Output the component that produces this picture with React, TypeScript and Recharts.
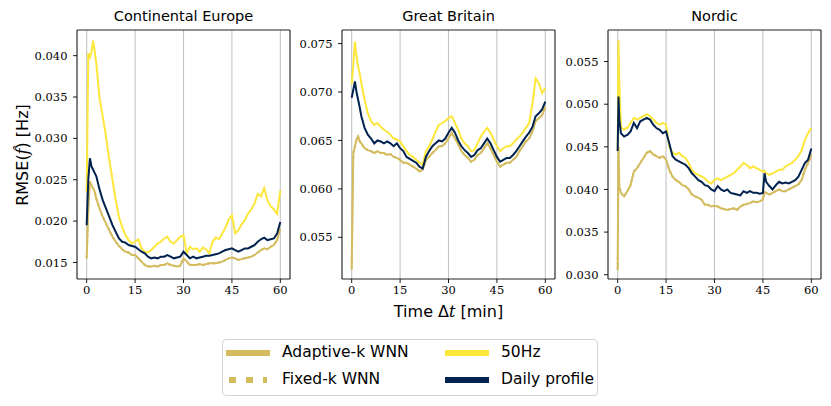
import React from 'react';
import { LineChart, Line, XAxis, YAxis, CartesianGrid, ReferenceArea } from 'recharts';

// ---------- categories (minutes) ----------
const ceTime = [0, 0.5, 1, 1.5, 2, 2.5, 3, 4, 5, 6, 7, 8, 9, 10, 11, 12, 13, 14, 15, 16, 17, 18, 19, 20, 21, 22, 23, 24, 25, 26, 27, 28, 29, 30, 31, 32, 33, 34, 35, 36, 37, 38, 39, 40, 41, 42, 43, 44, 45, 46, 47, 48, 49, 50, 51, 52, 53, 54, 55, 56, 57, 58, 59, 60];
const gbTime = ceTime;
const noTime = [0, 0.25, 0.5, 1, 1.5, 2, 2.5, 3, 4, 5, 6, 7, 8, 9, 10, 11, 12, 13, 14, 15, 16, 17, 18, 19, 20, 21, 22, 23, 24, 25, 26, 27, 28, 29, 30, 31, 32, 33, 34, 35, 36, 37, 38, 39, 40, 41, 42, 43, 44, 45, 45.5, 46, 47, 48, 49, 50, 51, 52, 53, 54, 55, 56, 57, 58, 59, 60];

// ---------- Continental Europe ----------
const ceAdaptive = [0.0155, 0.0215, 0.0248, 0.0243, 0.0240, 0.0235, 0.0227, 0.0215, 0.0205, 0.0197, 0.0189, 0.0181, 0.0175, 0.0170, 0.0166, 0.0163, 0.0162, 0.0159, 0.0159, 0.0155, 0.0151, 0.0147, 0.0145, 0.0145, 0.0146, 0.0145, 0.0147, 0.0147, 0.0149, 0.0147, 0.0146, 0.0145, 0.0146, 0.0155, 0.0151, 0.0147, 0.0147, 0.0147, 0.0148, 0.0147, 0.0148, 0.0149, 0.0149, 0.0149, 0.0150, 0.0151, 0.0153, 0.0155, 0.0156, 0.0155, 0.0153, 0.0154, 0.0155, 0.0156, 0.0157, 0.0159, 0.0162, 0.0165, 0.0167, 0.0166, 0.0169, 0.0171, 0.0177, 0.0191];
const ceFixed = [0.0155, 0.0215, 0.0248, 0.0243, 0.0240, 0.0235, 0.0227, 0.0215, 0.0205, 0.0197, 0.0189, 0.0181, 0.0175, 0.0170, 0.0166, 0.0163, 0.0162, 0.0159, 0.0159, 0.0155, 0.0151, 0.0147, 0.0145, 0.0145, 0.0146, 0.0145, 0.0147, 0.0147, 0.0149, 0.0147, 0.0146, 0.0145, 0.0146, 0.0155, 0.0151, 0.0147, 0.0147, 0.0147, 0.0148, 0.0147, 0.0148, 0.0149, 0.0149, 0.0149, 0.0150, 0.0151, 0.0153, 0.0155, 0.0156, 0.0155, 0.0153, 0.0154, 0.0155, 0.0156, 0.0157, 0.0159, 0.0162, 0.0165, 0.0167, 0.0166, 0.0169, 0.0171, 0.0177, 0.0191];
const ce50Hz = [0.0235, 0.0403, 0.0398, 0.0405, 0.0418, 0.0405, 0.0390, 0.0348, 0.0326, 0.0302, 0.0274, 0.0250, 0.0225, 0.0205, 0.0193, 0.0183, 0.0177, 0.0173, 0.0175, 0.0178, 0.0167, 0.0163, 0.0162, 0.0165, 0.0169, 0.0173, 0.0175, 0.0179, 0.0181, 0.0175, 0.0173, 0.0177, 0.0181, 0.0183, 0.0161, 0.0169, 0.0166, 0.0167, 0.0163, 0.0168, 0.0166, 0.0161, 0.0175, 0.0180, 0.0178, 0.0185, 0.0192, 0.0202, 0.0207, 0.0185, 0.0189, 0.0196, 0.0201, 0.0209, 0.0214, 0.0221, 0.0233, 0.0230, 0.0240, 0.0225, 0.0218, 0.0214, 0.0209, 0.0237];
const ceDaily = [0.0195, 0.0250, 0.0276, 0.0266, 0.0262, 0.0258, 0.0254, 0.0238, 0.0225, 0.0215, 0.0205, 0.0195, 0.0187, 0.0179, 0.0175, 0.0174, 0.0171, 0.0170, 0.0169, 0.0166, 0.0163, 0.0161, 0.0157, 0.0155, 0.0156, 0.0155, 0.0157, 0.0157, 0.0159, 0.0157, 0.0155, 0.0156, 0.0157, 0.0163, 0.0159, 0.0155, 0.0157, 0.0155, 0.0156, 0.0157, 0.0158, 0.0158, 0.0159, 0.0160, 0.0161, 0.0163, 0.0165, 0.0166, 0.0167, 0.0165, 0.0163, 0.0165, 0.0167, 0.0167, 0.0169, 0.0171, 0.0175, 0.0178, 0.0180, 0.0177, 0.0178, 0.0179, 0.0185, 0.0199];

// ---------- Great Britain ----------
const gbAdaptive = [0.0517, 0.0637, 0.0644, 0.0651, 0.0654, 0.0649, 0.0647, 0.0642, 0.0640, 0.0639, 0.0637, 0.0639, 0.0637, 0.0637, 0.0635, 0.0636, 0.0633, 0.0632, 0.0630, 0.0627, 0.0627, 0.0625, 0.0623, 0.0621, 0.0618, 0.0620, 0.0630, 0.0633, 0.0637, 0.0640, 0.0644, 0.0644, 0.0647, 0.0652, 0.0658, 0.0652, 0.0646, 0.0639, 0.0635, 0.0632, 0.0628, 0.0630, 0.0635, 0.0637, 0.0642, 0.0647, 0.0642, 0.0635, 0.0628, 0.0623, 0.0625, 0.0627, 0.0627, 0.0630, 0.0633, 0.0639, 0.0644, 0.0649, 0.0652, 0.0659, 0.0670, 0.0673, 0.0676, 0.0685];
const gbFixed = [0.0517, 0.0637, 0.0644, 0.0651, 0.0654, 0.0649, 0.0647, 0.0642, 0.0640, 0.0639, 0.0637, 0.0639, 0.0637, 0.0637, 0.0635, 0.0636, 0.0633, 0.0632, 0.0630, 0.0627, 0.0627, 0.0625, 0.0623, 0.0621, 0.0618, 0.0620, 0.0630, 0.0633, 0.0637, 0.0640, 0.0644, 0.0644, 0.0647, 0.0652, 0.0658, 0.0652, 0.0646, 0.0639, 0.0635, 0.0632, 0.0628, 0.0630, 0.0635, 0.0637, 0.0642, 0.0647, 0.0642, 0.0635, 0.0628, 0.0623, 0.0625, 0.0627, 0.0627, 0.0630, 0.0633, 0.0639, 0.0644, 0.0649, 0.0652, 0.0659, 0.0670, 0.0673, 0.0676, 0.0685];
const gb50Hz = [0.0708, 0.0728, 0.0752, 0.0737, 0.0726, 0.0719, 0.0709, 0.0692, 0.0678, 0.0670, 0.0666, 0.0668, 0.0664, 0.0661, 0.0659, 0.0656, 0.0652, 0.0651, 0.0649, 0.0644, 0.0639, 0.0635, 0.0633, 0.0630, 0.0627, 0.0625, 0.0639, 0.0644, 0.0651, 0.0659, 0.0666, 0.0668, 0.0670, 0.0673, 0.0675, 0.0668, 0.0661, 0.0652, 0.0647, 0.0644, 0.0639, 0.0640, 0.0647, 0.0654, 0.0659, 0.0663, 0.0658, 0.0651, 0.0644, 0.0639, 0.0642, 0.0644, 0.0644, 0.0647, 0.0651, 0.0654, 0.0658, 0.0663, 0.0668, 0.0688, 0.0714, 0.0709, 0.0699, 0.0704];
const gbDaily = [0.0694, 0.0702, 0.0711, 0.0700, 0.0692, 0.0684, 0.0675, 0.0663, 0.0656, 0.0652, 0.0647, 0.0650, 0.0649, 0.0647, 0.0649, 0.0647, 0.0644, 0.0647, 0.0642, 0.0639, 0.0633, 0.0631, 0.0629, 0.0627, 0.0623, 0.0621, 0.0633, 0.0639, 0.0644, 0.0647, 0.0650, 0.0649, 0.0652, 0.0658, 0.0663, 0.0658, 0.0650, 0.0644, 0.0640, 0.0637, 0.0633, 0.0635, 0.0640, 0.0642, 0.0647, 0.0652, 0.0647, 0.0640, 0.0633, 0.0628, 0.0630, 0.0632, 0.0632, 0.0635, 0.0639, 0.0644, 0.0649, 0.0654, 0.0658, 0.0664, 0.0675, 0.0678, 0.0682, 0.0690];

// ---------- Nordic ----------
const noAdaptive = [0.0306, 0.0450, 0.0404, 0.0396, 0.0394, 0.0392, 0.0395, 0.0398, 0.0405, 0.0421, 0.0425, 0.0431, 0.0437, 0.0443, 0.0445, 0.0441, 0.0439, 0.0437, 0.0439, 0.0435, 0.0423, 0.0415, 0.0411, 0.0409, 0.0405, 0.0404, 0.0400, 0.0394, 0.0392, 0.0390, 0.0388, 0.0382, 0.0382, 0.0380, 0.0381, 0.0380, 0.0378, 0.0377, 0.0376, 0.0377, 0.0378, 0.0376, 0.0380, 0.0382, 0.0383, 0.0384, 0.0386, 0.0385, 0.0386, 0.0388, 0.0397, 0.0396, 0.0394, 0.0396, 0.0398, 0.0400, 0.0398, 0.0398, 0.0400, 0.0402, 0.0404, 0.0406, 0.0411, 0.0423, 0.0431, 0.0441];
const noFixed = [0.0306, 0.0450, 0.0404, 0.0396, 0.0394, 0.0392, 0.0395, 0.0398, 0.0405, 0.0421, 0.0425, 0.0431, 0.0437, 0.0443, 0.0445, 0.0441, 0.0439, 0.0437, 0.0439, 0.0435, 0.0423, 0.0415, 0.0411, 0.0409, 0.0405, 0.0404, 0.0400, 0.0394, 0.0392, 0.0390, 0.0388, 0.0382, 0.0382, 0.0380, 0.0381, 0.0380, 0.0378, 0.0377, 0.0376, 0.0377, 0.0378, 0.0376, 0.0380, 0.0382, 0.0383, 0.0384, 0.0386, 0.0385, 0.0386, 0.0388, 0.0397, 0.0396, 0.0394, 0.0396, 0.0398, 0.0400, 0.0398, 0.0398, 0.0400, 0.0402, 0.0404, 0.0406, 0.0411, 0.0423, 0.0431, 0.0441];
const no50Hz = [0.0446, 0.0575, 0.0525, 0.0474, 0.0471, 0.0470, 0.0472, 0.0472, 0.0478, 0.0484, 0.0482, 0.0484, 0.0486, 0.0488, 0.0486, 0.0482, 0.0478, 0.0476, 0.0478, 0.0476, 0.0450, 0.0443, 0.0441, 0.0443, 0.0439, 0.0437, 0.0431, 0.0423, 0.0419, 0.0417, 0.0415, 0.0413, 0.0409, 0.0407, 0.0411, 0.0413, 0.0411, 0.0413, 0.0415, 0.0417, 0.0419, 0.0423, 0.0427, 0.0431, 0.0429, 0.0425, 0.0427, 0.0425, 0.0423, 0.0421, 0.0422, 0.0419, 0.0417, 0.0419, 0.0421, 0.0423, 0.0423, 0.0427, 0.0429, 0.0431, 0.0435, 0.0439, 0.0446, 0.0458, 0.0466, 0.0472];
const noDaily = [0.0445, 0.0509, 0.0482, 0.0466, 0.0464, 0.0462, 0.0463, 0.0464, 0.0468, 0.0478, 0.0472, 0.0480, 0.0482, 0.0484, 0.0482, 0.0476, 0.0472, 0.0470, 0.0466, 0.0468, 0.0454, 0.0439, 0.0435, 0.0433, 0.0431, 0.0429, 0.0425, 0.0419, 0.0415, 0.0411, 0.0409, 0.0405, 0.0404, 0.0400, 0.0398, 0.0404, 0.0400, 0.0398, 0.0400, 0.0396, 0.0395, 0.0394, 0.0393, 0.0398, 0.0396, 0.0398, 0.0396, 0.0396, 0.0395, 0.0396, 0.0419, 0.0409, 0.0404, 0.0400, 0.0405, 0.0409, 0.0407, 0.0408, 0.0407, 0.0409, 0.0411, 0.0415, 0.0423, 0.0431, 0.0435, 0.0448];

// ---------- ticks ----------
const xTicks = [0, 15, 30, 45, 60];
const ceYTicks = [0.015, 0.02, 0.025, 0.03, 0.035, 0.04];
const gbYTicks = [0.055, 0.06, 0.065, 0.07, 0.075];
const noYTicks = [0.03, 0.035, 0.04, 0.045, 0.05, 0.055];

const C_ADAPT = '#d4bc5e';
const C_50 = '#fde73a';
const C_DAILY = '#00224e';

const SANS = '"DejaVu Sans", sans-serif';
const SERIF = '"DejaVu Serif", serif';

function rows(t: number[], a: number[], f: number[], h: number[], d: number[]) {
  return t.map((x, i) => ({ t: x, adaptive: a[i], fixed: f[i], hz50: h[i], daily: d[i] }));
}

const PLOT_W = 213;
const Y_W = 60;

const tickStyle = { fill: '#000', fontFamily: SERIF, fontSize: 11.5, style: { fontFamily: SERIF } } as any;

function Panel(props: { left: number; title: string; data: any[]; domain: [number, number]; yTicks: number[] }) {
  const { left, title, data, domain, yTicks } = props;
  return (
    <>
      <div style={{ position: 'absolute', left, top: 8, width: PLOT_W, textAlign: 'center', fontFamily: SANS, fontSize: 14.5, lineHeight: '17px', color: '#000' }}>
        {title}
      </div>
      <div style={{ position: 'absolute', left: left - Y_W, top: 0, fontFamily: SERIF }}>
        <LineChart width={Y_W + PLOT_W + 6} height={320} data={data} margin={{ top: 30, right: 6, bottom: 11, left: 0 }} style={{ fontFamily: SERIF }}>
          <CartesianGrid horizontal={false} stroke="#c4c4c4" strokeWidth={1.1} />
          <XAxis
            dataKey="t"
            type="number"
            domain={[-3, 63]}
            ticks={xTicks}
            allowDataOverflow
            height={30}
            axisLine={false}
            tickLine={{ stroke: '#000', strokeWidth: 0.9 }}
            tickSize={4}
            tickMargin={3}
            tick={tickStyle}
          />
          <YAxis
            type="number"
            domain={domain}
            ticks={yTicks}
            allowDataOverflow
            width={Y_W}
            axisLine={false}
            tickLine={{ stroke: '#000', strokeWidth: 0.9 }}
            tickSize={4}
            tickMargin={5.5}
            tickFormatter={(v: number) => v.toFixed(3)}
            tick={tickStyle}
          />
          <Line dataKey="adaptive" type="linear" stroke={C_ADAPT} strokeWidth={2} dot={false} isAnimationActive={false} />
          <Line dataKey="fixed" type="linear" stroke={C_ADAPT} strokeWidth={2} strokeDasharray="2 3.3" dot={false} isAnimationActive={false} />
          <Line dataKey="hz50" type="linear" stroke={C_50} strokeWidth={2} dot={false} isAnimationActive={false} />
          <Line dataKey="daily" type="linear" stroke={C_DAILY} strokeWidth={2} dot={false} isAnimationActive={false} />
          <ReferenceArea x1={-3} x2={63} y1={domain[0]} y2={domain[1]} fill="none" fillOpacity={0} stroke="#222" strokeWidth={1} ifOverflow="visible" />
        </LineChart>
      </div>
    </>
  );
}

function LegendItem(props: { x: number; y: number; label: string; color: string; dotted?: boolean }) {
  const { x, y, label, color, dotted } = props;
  return (
    <>
      <svg style={{ position: 'absolute', left: x, top: y - 4 }} width={46} height={8}>
        <line x1={dotted ? 3 : 0} y1={4} x2={dotted ? 41 : 44} y2={4} stroke={color} strokeWidth={6} strokeDasharray={dotted ? '7 10' : undefined} />
      </svg>
      <div style={{ position: 'absolute', left: x + 56, top: y - 10, fontFamily: SANS, fontSize: 15.5, lineHeight: '19px', color: '#000', whiteSpace: 'nowrap' }}>
        {label}
      </div>
    </>
  );
}

export default function App() {
  const ceData = rows(ceTime, ceAdaptive, ceFixed, ce50Hz, ceDaily);
  const gbData = rows(gbTime, gbAdaptive, gbFixed, gb50Hz, gbDaily);
  const noData = rows(noTime, noAdaptive, noFixed, no50Hz, noDaily);
  return (
    <div style={{ position: 'absolute', left: 0, top: 0, width: 831, height: 406, background: '#fff', overflow: 'hidden' }}>
      <Panel left={77} title="Continental Europe" data={ceData} domain={[0.013, 0.0431]} yTicks={ceYTicks} />
      <Panel left={342} title="Great Britain" data={gbData} domain={[0.0507, 0.0764]} yTicks={gbYTicks} />
      <Panel left={608} title="Nordic" data={noData} domain={[0.0295, 0.0587]} yTicks={noYTicks} />

      <svg style={{ position: 'absolute', left: 0, top: 0 }} width={40} height={320}>
        <text transform="translate(28,155) rotate(-90)" textAnchor="middle" fontFamily={SANS} fontSize={16} fill="#000">
          RMSE(<tspan fontFamily={SERIF} fontStyle="italic">f̂</tspan>) [Hz]
        </text>
      </svg>

      <div style={{ position: 'absolute', left: 342, top: 302, width: PLOT_W, textAlign: 'center', fontFamily: SANS, fontSize: 16, lineHeight: '19px', color: '#000' }}>
        Time Δ<span style={{ fontFamily: SERIF, fontStyle: 'italic' }}>t</span> [min]
      </div>

      <div style={{ position: 'absolute', left: 222, top: 339, width: 376, height: 57, border: '1px solid #d4d4d4', borderRadius: 4, boxSizing: 'border-box' }} />
      <LegendItem x={226} y={353} label="Adaptive-k WNN" color={C_ADAPT} />
      <LegendItem x={226} y={380} label="Fixed-k WNN" color={C_ADAPT} dotted />
      <LegendItem x={445} y={353} label="50Hz" color={C_50} />
      <LegendItem x={445} y={380} label="Daily profile" color={C_DAILY} />
    </div>
  );
}
